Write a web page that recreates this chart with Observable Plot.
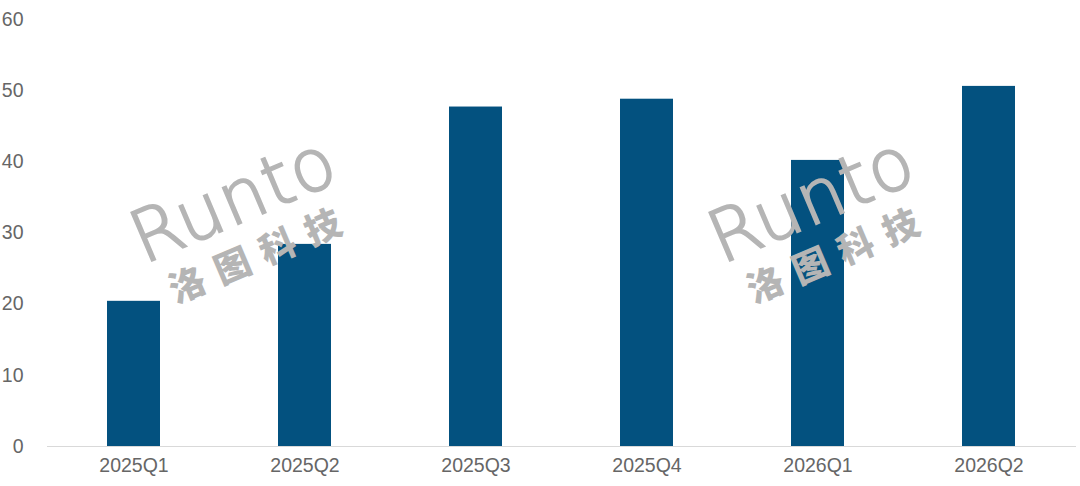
<!DOCTYPE html>
<html><head><meta charset="utf-8">
<script src="https://cdn.jsdelivr.net/npm/d3@7"></script>
<script src="https://cdn.jsdelivr.net/npm/@observablehq/plot@0.6"></script>
<style>
body{margin:0;background:#fff;}
#wrap{position:relative;width:1080px;height:486px;overflow:hidden;}
.wm{position:absolute;color:#b5b5b5;pointer-events:none;transform-origin:left top;}
.wm .en{font-family:"DejaVu Sans",sans-serif;font-weight:200;font-size:72px;letter-spacing:1px;line-height:1;-webkit-text-stroke:2px #b5b5b5;}
.wm .cn{font-family:"Noto Sans CJK SC",sans-serif;font-weight:900;font-size:36px;letter-spacing:13px;line-height:1;margin-left:14px;margin-top:4px;}
</style></head>
<body><div id="wrap"></div>
<script>
const quarters = ["2025Q1","2025Q2","2025Q3","2025Q4","2026Q1","2026Q2"];
const values = [20.4, 28.4, 47.7, 48.8, 40.2, 50.6];
const yTicks = [0,10,20,30,40,50,60];
const data = quarters.map((q,i)=>({q, v: values[i]}));

const chart = Plot.plot({
  width:1080, height:486,
  marginLeft:47, marginRight:4, marginTop:19, marginBottom:40,
  style:{fontFamily:"Liberation Sans, Arial, sans-serif", fontSize:"19.5px", color:"#666666", background:"#fff"},
  x:{domain:quarters, paddingInner:0.69, paddingOuter:0.345, label:null, tickSize:0, tickPadding:12},
  y:{domain:[0,60], ticks:yTicks, label:null, tickSize:0, tickPadding:24},
  marks:[
    Plot.barY(data,{x:"q", y:"v", fill:"#03517F"}),
    Plot.ruleY([0],{stroke:"#d9d9d9", strokeWidth:1.2})
  ]
});
const wrap = document.getElementById("wrap");
wrap.appendChild(chart);
[0,578].forEach(dx=>{
  const d=document.createElement("div");
  d.className="wm";
  d.style.left=(120+dx)+"px"; d.style.top="208px";
  d.style.transform="rotate(-23deg)";
  d.innerHTML='<div class="en">Runto</div><div class="cn">洛图科技</div>';
  wrap.appendChild(d);
});
</script></body></html>
